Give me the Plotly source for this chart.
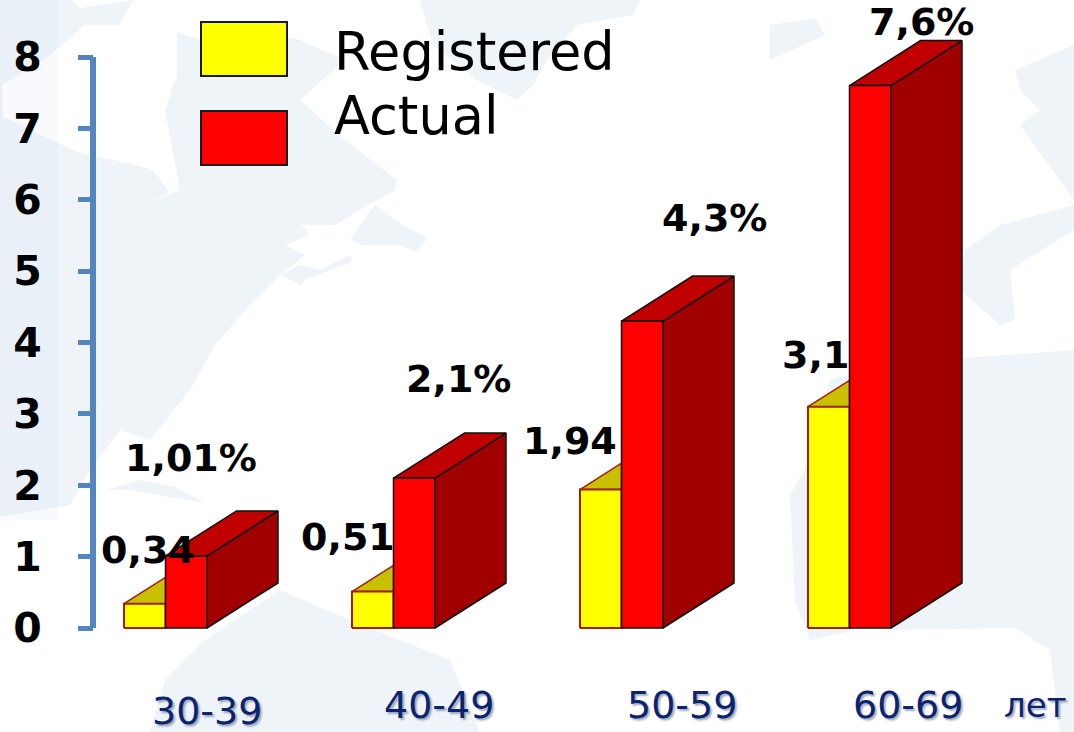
import plotly.graph_objects as go

# ---- data ----
age_groups = ["30-39", "40-49", "50-59", "60-69"]
registered = [0.34, 0.51, 1.94, 3.1]
actual = [1.01, 2.1, 4.3, 7.6]
registered_labels = ["0,34", "0,51", "1,94", "3,1"]
actual_labels = ["1,01%", "2,1%", "4,3%", "7,6%"]
series_names = ["Registered", "Actual"]
unit_label = "лет"
y_ticks = [0, 1, 2, 3, 4, 5, 6, 7, 8]

# ---- layout constants ----
W, H = 1074, 732
Y0_PX, Y8_PX = 628, 57
PX_PER_UNIT = (Y0_PX - Y8_PX) / 8
GROUP_STEP = 228
LEFT0 = 124
BAR_W = 41.5 / GROUP_STEP
DEPTH_X = 71 / GROUP_STEP
DEPTH_Y = 45 / PX_PER_UNIT
AXIS_PX = 93

x_range = [-LEFT0 / GROUP_STEP, (W - LEFT0) / GROUP_STEP]
y_range = [-(H - Y0_PX) / PX_PER_UNIT, Y0_PX / PX_PER_UNIT]

reg_label_xy = [(148, 550), (348, 537), (570, 441), (815, 355)]
act_label_xy = [(191, 458), (458, 379), (714, 218), (921, 22)]
cat_label_xy = [(207, 711), (439, 705), (682, 705), (908, 705)]

PALE = "#EEF4F8"
land = [
    [(0,0),(72,0),(80,8),(133,0),(120,25),(85,25),(50,55),(2,85),(3,117),(80,153),(127,163),(153,170),
     (170,193),(140,207),(180,190),(165,110),(177,75),(177,32),(215,45),(245,30),(300,40),(345,60),(300,100),
     (345,140),(397,180),(395,190),(355,213),(335,225),(300,225),(310,235),(285,245),(305,255),(280,275),
     (250,305),(215,345),(190,390),(150,440),(120,430),(90,470),(70,505),(0,517)],
    [(420,0),(433,45),(477,80),(517,100),(533,85),(547,60),(577,25),(633,15),(640,0)],
    [(350,240),(375,205),(398,222),(428,238),(415,252),(400,245),(362,245)],
    [(280,275),(300,265),(320,270),(350,255),(352,262),(330,270),(305,280),(300,285),(295,282)],
    [(107,490),(140,480),(175,487),(205,503),(170,497),(130,490)],
    [(150,732),(165,680),(205,640),(280,590),(350,620),(450,660),(480,732)],
    [(770,25),(815,18),(825,35),(770,60)],
    [(1074,45),(1015,70),(1020,90),(1040,110),(1020,125),(1074,200)],
    [(1074,230),(1010,270),(1015,320),(1000,325),(960,290),(965,250),(1000,225),(1074,205)],
    [(965,358),(1074,350),(1074,732),(1060,732),(1050,650),(1015,628),(890,630),(880,625),(810,640),
     (795,600),(790,495),(810,460),(830,380),(900,360)],
]


def pxx(p):
    return p / W


def pxy(p):
    return 1 - p / H


def box(x, y0, y1, w):
    return [x, x + w, x + w, x, x], [y0, y0, y1, y1, y0]


def poly(fig, xs, ys, fill, line, lw=1.5):
    fig.add_trace(go.Scatter(x=xs, y=ys, mode="lines", fill="toself", fillcolor=fill,
                             line=dict(color=line, width=lw), hoverinfo="skip", showlegend=False))


fig = go.Figure()

for i in range(len(age_groups)):
    reg, act = registered[i], actual[i]
    xl = i
    xm = i + BAR_W
    xr = i + 2 * BAR_W
    # yellow: top sliver visible left of the red bar, then front
    rise = DEPTH_Y * BAR_W / DEPTH_X
    poly(fig, [xl, xm, xm, xl], [reg, reg, reg + rise, reg], "#C8C000", "#A02010")
    xs, ys = box(xl, 0, reg, BAR_W)
    poly(fig, xs, ys, "#FFFF00", "#A02010", 2)
    # red: side, top, front
    poly(fig, [xr, xr + DEPTH_X, xr + DEPTH_X, xr, xr], [0, DEPTH_Y, act + DEPTH_Y, act, 0], "#A00000", "#111111")
    poly(fig, [xm, xm + DEPTH_X, xr + DEPTH_X, xr, xm], [act, act + DEPTH_Y, act + DEPTH_Y, act, act], "#C00000", "#111111")
    xs, ys = box(xm, 0, act, BAR_W)
    poly(fig, xs, ys, "#FF0000", "#111111")

shapes = []
for pts in land:
    path = "M " + " L ".join(f"{pxx(a):.4f},{pxy(b):.4f}" for a, b in pts) + " Z"
    shapes.append(dict(type="path", path=path, xref="paper", yref="paper", layer="below",
                       fillcolor=PALE, line=dict(width=0)))
shapes.append(dict(type="rect", xref="paper", yref="paper", layer="below", x0=0, x1=pxx(58), y0=pxy(520), y1=1,
                   fillcolor="rgba(215,220,240,0.14)", line=dict(width=0)))
# y axis spine, from the first to the last tick
shapes.append(dict(type="line", xref="paper", yref="y", x0=pxx(AXIS_PX), x1=pxx(AXIS_PX),
                   y0=y_ticks[0], y1=y_ticks[-1], line=dict(color="#5585BE", width=6)))
# legend swatches
for (top, bottom), colour in zip([(22, 76), (111, 165)], ["#FFFF00", "#FF0000"]):
    shapes.append(dict(type="rect", xref="paper", yref="paper", x0=pxx(201), x1=pxx(287),
                       y0=pxy(bottom), y1=pxy(top), fillcolor=colour, line=dict(color="#1a1a1a", width=2)))

ann = []


def text(s, p, size, colour, bold=False, anchor="center", shadow=None):
    font = dict(family="DejaVu Sans", size=size, color=colour, weight="bold" if bold else "normal")
    if shadow:
        font["shadow"] = shadow
    ann.append(dict(text=s, x=pxx(p[0]), y=pxy(p[1]), xref="paper", yref="paper", xanchor=anchor,
                    yanchor="middle", showarrow=False, font=font))


for s, p in zip(registered_labels, reg_label_xy):
    text(s, p, 38, "#000000", True)
for s, p in zip(actual_labels, act_label_xy):
    text(s, p, 38, "#000000", True)
SHADOW = "2px 2px 2px rgba(60,70,90,0.45)"
for s, p in zip(age_groups, cat_label_xy):
    text(s, p, 38, "#0B2472", shadow=SHADOW)
text(unit_label, (1035, 705), 34, "#0B2472", shadow=SHADOW)
text(series_names[0], (332, 52), 52.5, "#000000", anchor="left")
text(series_names[1], (332, 116), 52.5, "#000000", anchor="left")

fig.update_layout(
    width=W, height=H, autosize=False, margin=dict(l=0, r=0, t=0, b=0),
    paper_bgcolor="white", plot_bgcolor="rgba(0,0,0,0)", showlegend=False,
    shapes=shapes, annotations=ann,
    xaxis=dict(range=x_range, visible=False, fixedrange=True),
    yaxis=dict(range=y_range, anchor="free", position=pxx(AXIS_PX), showgrid=False, zeroline=False,
               tickmode="array", tickvals=y_ticks, ticktext=[str(t) for t in y_ticks],
               ticks="outside", ticklen=15, tickwidth=5, tickcolor="#5585BE",
               ticklabelstandoff=28, tickfont=dict(family="DejaVu Sans", size=41, color="#000000", weight="bold"),
               fixedrange=True),
)
fig.write_html("out.html", config=dict(displayModeBar=False),
               post_script="document.body.style.margin='0';document.body.style.overflow='hidden';")
